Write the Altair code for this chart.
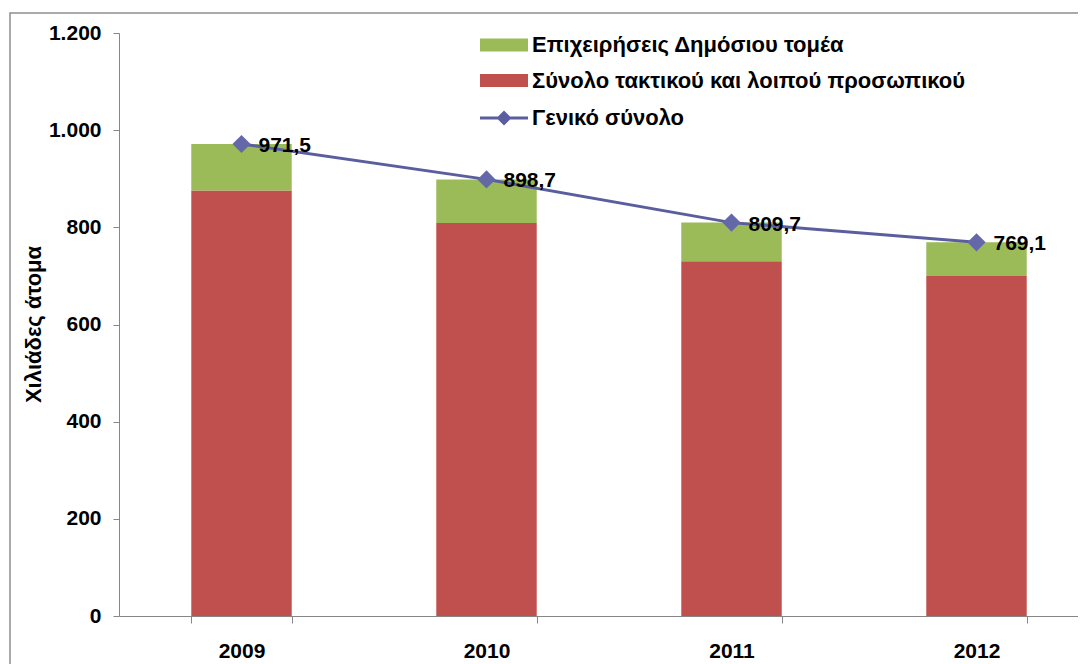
import altair as alt
import pandas as pd

years = ["2009", "2010", "2011", "2012"]
regular_staff = [876, 809, 730, 700]
enterprises = [95.5, 89.7, 79.7, 69.1]
totals = [971.5, 898.7, 809.7, 769.1]
y_ticks = [0, 200, 400, 600, 800, 1000, 1200]

S_ENT = "Επιχειρήσεις Δημόσιου τομέα"
S_REG = "Σύνολο τακτικού και λοιπού προσωπικού"
S_TOT = "Γενικό σύνολο"
Y_TITLE = "Χιλιάδες άτομα"

GREEN = "#9BBB59"
RED = "#C0504D"
LINE = "#5A5E9E"
MARK = "#6468A8"
AXIS = "#868686"
FONT = "Liberation Sans"
FS = 21
LFS = 22

bars_df = pd.DataFrame({
    "year": years * 2,
    "series": [S_REG] * 4 + [S_ENT] * 4,
    "value": regular_staff + enterprises,
    "ord": [0] * 4 + [1] * 4,
})
tot_df = pd.DataFrame({"year": years, "total": totals, "series": [S_TOT] * 4})

x_enc = alt.X(
    "year:N",
    scale=alt.Scale(domain=years, range=[0, 980], paddingInner=0.59, paddingOuter=0.295),
    axis=alt.Axis(
        title=None, labelAngle=0, tickBand="extent", tickSize=7, labelPadding=17,
        domainColor=AXIS, tickColor=AXIS, domainWidth=1, tickWidth=1,
        labelFont=FONT, labelFontSize=FS, labelFontWeight="bold", labelColor="black",
        grid=False,
    ),
)

y_axis = alt.Axis(
    values=y_ticks,
    labelExpr="replace(format(datum.value, ','), ',', '.')",
    title=Y_TITLE, titleFont=FONT, titleFontSize=LFS, titleFontWeight="bold", titleColor="black",
    titleX=-86, titleY=291, titleBaseline="middle", titleAlign="center",
    tickSize=6, labelPadding=12, domainColor=AXIS, tickColor=AXIS,
    labelFont=FONT, labelFontSize=FS, labelFontWeight="bold", labelColor="black",
    grid=False,
)
y_scale = alt.Scale(domain=[0, 1200], nice=False)

frame = alt.Chart(alt.Data(values=[{"a": 1}])).mark_rect(
    fill="transparent", stroke="#8E8E8E", strokeWidth=1.5
).encode(
    x=alt.value(-109), x2=alt.value(1100), y=alt.value(-20), y2=alt.value(700)
)

bars = alt.Chart(bars_df).mark_bar().encode(
    x=x_enc,
    y=alt.Y("value:Q", stack="zero", scale=y_scale, axis=y_axis),
    fill=alt.Fill(
        "series:N",
        scale=alt.Scale(domain=[S_ENT, S_REG], range=[GREEN, RED]),
        legend=alt.Legend(
            title=None, orient="none", legendX=373, legendY=0, padding=0,
            symbolType="M-2,-0.54H2V0.54H-2Z", symbolSize=576, symbolStrokeWidth=0,
            symbolOpacity=1,
            labelFont=FONT, labelFontSize=LFS, labelFontWeight="bold", labelColor="black",
            labelOffset=16, rowPadding=12.5, labelLimit=700,
        ),
    ),
    order=alt.Order("ord:Q", sort="ascending"),
)

line = alt.Chart(tot_df).mark_line(strokeWidth=3).encode(
    x=x_enc,
    y=alt.Y("total:Q", scale=y_scale, axis=y_axis),
    stroke=alt.Stroke(
        "series:N",
        scale=alt.Scale(domain=[S_TOT], range=[LINE]),
        legend=alt.Legend(
            title=None, orient="none", legendX=373, legendY=73, padding=0,
            symbolType="M-2,-0.125H2V0.125H-2Z M0,-0.62L0.62,0L0,0.62L-0.62,0Z",
            symbolSize=576, symbolStrokeWidth=0, symbolFillColor=LINE, symbolOpacity=1,
            labelFont=FONT, labelFontSize=LFS, labelFontWeight="bold", labelColor="black",
            labelOffset=16, labelLimit=700,
        ),
    ),
)

points = alt.Chart(tot_df).mark_point(
    shape="diamond", filled=True, size=330, color=MARK, opacity=1
).encode(
    x=x_enc,
    y=alt.Y("total:Q", scale=y_scale, axis=y_axis),
)

labels = alt.Chart(tot_df).transform_calculate(
    lbl="replace(format(datum.total, '.1f'), '.', ',')"
).mark_text(
    align="left", baseline="middle", dx=17, dy=2,
    font=FONT, fontSize=FS, fontWeight="bold", color="black",
).encode(
    x=x_enc,
    y=alt.Y("total:Q", scale=y_scale, axis=y_axis),
    text="lbl:N",
)

chart = alt.layer(frame, bars, line, points, labels).properties(
    width=959,
    height=583,
    autosize=alt.AutoSizeParams(type="none"),
    padding={"left": 111, "top": 25, "right": 0, "bottom": 50},
    background="white",
).configure_view(stroke=None)

chart.save("out.html", embed_options={"renderer": "svg", "actions": False})
